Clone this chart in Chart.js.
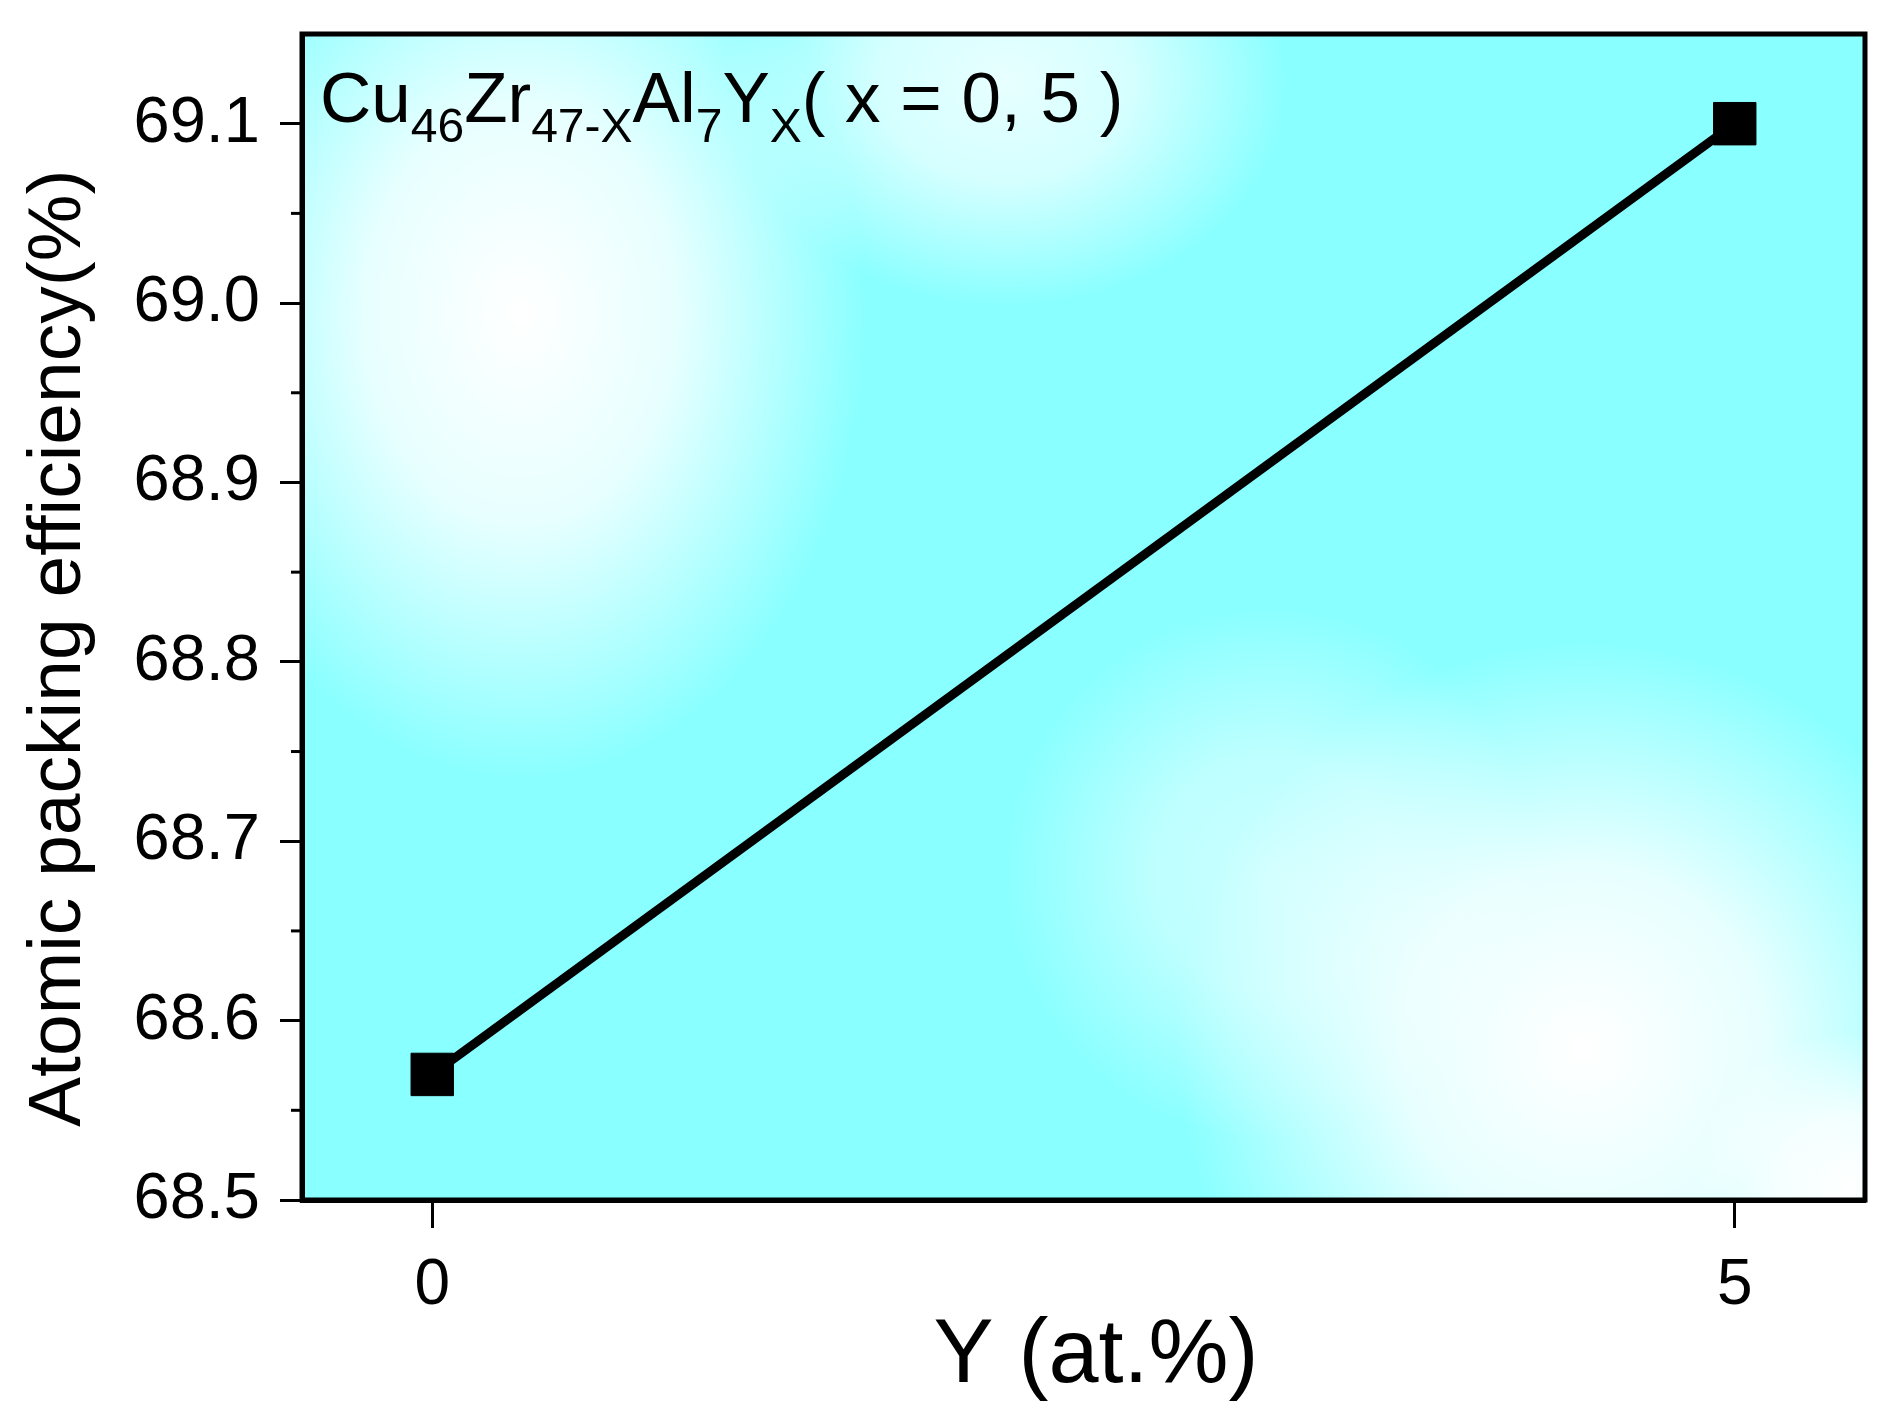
<!DOCTYPE html>
<html>
<head>
<meta charset="utf-8">
<title>Atomic packing efficiency</title>
<script src="https://cdn.jsdelivr.net/npm/chart.js@4.4.1/dist/chart.umd.min.js"></script>
<style>
  html, body { margin: 0; padding: 0; background: #fff; }
  #wrap { width: 1896px; height: 1417px; }
</style>
</head>
<body>
<div id="wrap"><canvas id="apf-chart"></canvas></div>
<script>
// data
const yContent = [0, 5];              // Y (at.%)
const packingEff = [68.57, 69.10];    // atomic packing efficiency (%)
const xTicks = [0, 5];
const yTicks = [68.5, 68.6, 68.7, 68.8, 68.9, 69.0, 69.1];

const FONT = "'Liberation Sans', Arial, sans-serif";
Chart.defaults.font.family = FONT;
Chart.defaults.color = '#000';

// cyan/white shaded background of the plot frame
const bgPlugin = {
    id: 'bgShade',
    beforeDraw(chart) {
        const { ctx, chartArea: a } = chart;
        const w = a.right - a.left, h = a.bottom - a.top;
        ctx.save();
        ctx.beginPath();
        ctx.rect(a.left, a.top, w, h);
        ctx.clip();
        ctx.fillStyle = 'rgb(138,255,255)';
        ctx.fillRect(a.left, a.top, w, h);
        // white blobs [fx, fy, radius (fraction of width), strength, vertical stretch]
        const blobs = [
            [0.14, 0.24, 0.22, 1.0, 1.35],
            [0.82, 0.87, 0.26, 1.0, 1.0],
            [0.45, 0.04, 0.18, 0.8, 0.8],
            [0.62, 0.72, 0.17, 0.55, 1.0],
            [0.99, 0.99, 0.10, 1.0, 1.0]
        ];
        blobs.forEach(([fx, fy, fr, s, sy]) => {
            const cx = a.left + fx * w, cy = a.top + fy * h, r = fr * w;
            ctx.save();
            ctx.translate(cx, cy);
            ctx.scale(1, sy);
            const g = ctx.createRadialGradient(0, 0, 0, 0, 0, r);
            g.addColorStop(0, 'rgba(255,255,255,' + s + ')');
            g.addColorStop(0.45, 'rgba(255,255,255,' + (s * 0.8) + ')');
            g.addColorStop(1, 'rgba(255,255,255,0)');
            ctx.fillStyle = g;
            ctx.fillRect(-r, -r, 2 * r, 2 * r);
            ctx.restore();
        });
        ctx.restore();
    },
    afterDraw(chart) {
        const { ctx, chartArea: a } = chart;
        const ys = chart.scales.y;
        ctx.save();
        // frame
        ctx.strokeStyle = '#000';
        ctx.lineWidth = 5;
        ctx.strokeRect(a.left, a.top, a.right - a.left, a.bottom - a.top);
        // minor ticks halfway between the labelled ones
        ctx.lineWidth = 3;
        for (let i = 0; i < yTicks.length - 1; i++) {
            const py = ys.getPixelForValue((yTicks[i] + yTicks[i + 1]) / 2);
            ctx.beginPath();
            ctx.moveTo(a.left - 11, py);
            ctx.lineTo(a.left, py);
            ctx.stroke();
        }
        // composition label with subscripts
        const parts = [
            ['Cu', 0], ['46', 1], ['Zr', 0], ['47-X', 1], ['Al', 0], ['7', 1],
            ['Y', 0], ['X', 1], ['( x = 0, 5 )', 0]
        ];
        let x = a.left + 18;
        const base = a.top + 88;
        ctx.fillStyle = '#000';
        ctx.textBaseline = 'alphabetic';
        parts.forEach(([t, sub]) => {
            ctx.font = (sub ? '48px ' : '71px ') + FONT;
            ctx.fillText(t, x, sub ? base + 20 : base);
            x += ctx.measureText(t).width;
        });
        ctx.restore();
    }
};

const ctx = document.getElementById('apf-chart');
new Chart(ctx, {
    type: 'line',
    data: {
        datasets: [{
            label: 'APF',
            data: yContent.map((v, i) => ({ x: v, y: packingEff[i] })),
            borderColor: '#000',
            borderWidth: 9,
            pointStyle: 'rect',
            pointRadius: 30,
            pointBackgroundColor: '#000',
            pointBorderColor: '#000',
            pointBorderWidth: 1,
            fill: false,
            tension: 0
        }]
    },
    options: {
        responsive: true,
        maintainAspectRatio: false,
        animation: false,
        layout: { padding: { top: 34, right: 28, left: 0, bottom: 0 } },
        plugins: {
            legend: { display: false },
            tooltip: { enabled: false }
        },
        scales: {
            x: {
                type: 'linear',
                min: -0.5,
                max: 5.5,
                afterBuildTicks: s => { s.ticks = xTicks.map(v => ({ value: v })); },
                afterFit: s => { s.height = 217; s.paddingLeft = 0; s.paddingRight = 0; },
                ticks: { font: { size: 64 }, padding: 20, maxRotation: 0 },
                grid: { drawOnChartArea: false, tickLength: 28, tickWidth: 3, color: '#000' },
                border: { color: '#000', width: 5 },
                title: {
                    display: true,
                    text: ' Y (at.%)',
                    font: { size: 90 },
                    padding: { top: 0, bottom: 6 }
                }
            },
            y: {
                min: 68.5,
                max: 69.15,
                afterBuildTicks: s => { s.ticks = yTicks.map(v => ({ value: v })); },
                afterFit: s => { s.width = 302; s.paddingTop = 0; s.paddingBottom = 0; },
                ticks: { font: { size: 65 }, padding: 20, callback: v => v.toFixed(1) },
                grid: { drawOnChartArea: false, tickLength: 22, tickWidth: 3, color: '#000' },
                border: { color: '#000', width: 5 },
                title: {
                    display: true,
                    text: 'Atomic packing efficiency(%)   ',
                    font: { size: 75 },
                    padding: { top: 14, bottom: 0 }
                }
            }
        }
    },
    plugins: [bgPlugin]
});
</script>
</body>
</html>
